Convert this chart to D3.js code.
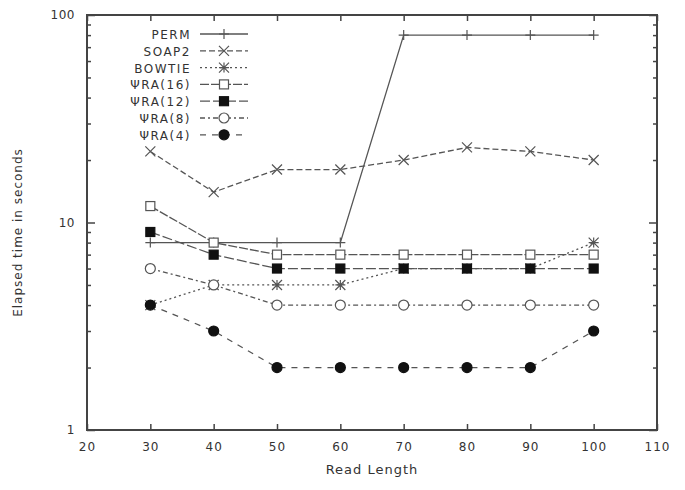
<!DOCTYPE html>
<html>
<head>
<meta charset="utf-8">
<script src="https://d3js.org/d3.v7.min.js"></script>
<style>
  body { margin: 0; background: #fff; }
  text { font-family: "DejaVu Sans", sans-serif; fill: #333; }
</style>
</head>
<body>
<script>
// chart values
var readLength = [30, 40, 50, 60, 70, 80, 90, 100];
var seriesNames = ["PERM", "SOAP2", "BOWTIE", "\u03A8RA(16)", "\u03A8RA(12)", "\u03A8RA(8)", "\u03A8RA(4)"];
var perm   = [8, 8, 8, 8, 80, 80, 80, 80];
var soap2  = [22, 14, 18, 18, 20, 23, 22, 20];
var bowtie = [4, 5, 5, 5, 6, 6, 6, 8];
var psi16  = [12, 8, 7, 7, 7, 7, 7, 7];
var psi12  = [9, 7, 6, 6, 6, 6, 6, 6];
var psi8   = [6, 5, 4, 4, 4, 4, 4, 4];
var psi4   = [4, 3, 2, 2, 2, 2, 2, 3];
var xTicks = [20, 30, 40, 50, 60, 70, 80, 90, 100, 110];
var yTicks = [1, 10, 100];

var allValues = [perm, soap2, bowtie, psi16, psi12, psi8, psi4];
var dashes = [null, "6,3", "2,3", "9,2", "10,3", "5,3,2,3", "6,6"];
var markers = ["plus", "cross", "star", "square", "fsquare", "circle", "fcircle"];

var margin = {top: 15, right: 28, bottom: 60, left: 87},
    width = 685 - margin.left - margin.right,
    height = 490 - margin.top - margin.bottom;

var svg = d3.select("body").append("svg")
    .attr("width", 685)
    .attr("height", 490)
  .append("g")
    .attr("transform", "translate(" + margin.left + "," + margin.top + ")");

var x = d3.scaleLinear().domain([20, 110]).range([0, width]);
var y = d3.scaleLog().domain([1, 100]).range([height, 0]);

// minor log ticks
var minor = [];
[1, 10].forEach(function(b) { for (var k = 2; k <= 9; k++) minor.push(b * k); });

var axisColor = "#444";

// bottom
svg.append("g")
    .attr("transform", "translate(0," + height + ")")
    .call(d3.axisBottom(x).tickValues(xTicks).tickSize(-6).tickPadding(12).tickFormat(d3.format("d")))
    .call(g => g.select(".domain").remove())
    .call(g => g.selectAll("text").style("font-size", "12px").style("letter-spacing", "1px"));
// top
svg.append("g")
    .call(d3.axisTop(x).tickValues(xTicks).tickSize(-6).tickFormat(""))
    .call(g => g.select(".domain").remove());
// left major
svg.append("g")
    .call(d3.axisLeft(y).tickValues(yTicks).tickSize(-8).tickPadding(12).tickFormat(d3.format("d")))
    .call(g => g.select(".domain").remove())
    .call(g => g.selectAll("text").style("font-size", "12px").style("letter-spacing", "0.5px"));
svg.append("g")
    .call(d3.axisLeft(y).tickValues(minor).tickSize(-4).tickFormat(""))
    .call(g => g.select(".domain").remove());
// right
svg.append("g")
    .attr("transform", "translate(" + width + ",0)")
    .call(d3.axisRight(y).tickValues(yTicks).tickSize(-8).tickFormat(""))
    .call(g => g.select(".domain").remove());
svg.append("g")
    .attr("transform", "translate(" + width + ",0)")
    .call(d3.axisRight(y).tickValues(minor).tickSize(-4).tickFormat(""))
    .call(g => g.select(".domain").remove());

svg.selectAll(".tick line").attr("stroke", axisColor).attr("stroke-width", 1.5);

svg.append("rect")
    .attr("width", width).attr("height", height)
    .attr("fill", "none").attr("stroke", axisColor).attr("stroke-width", 2);

// titles
svg.append("text")
    .attr("x", width / 2).attr("y", height + 44)
    .attr("text-anchor", "middle")
    .style("font-size", "13px")
    .style("letter-spacing", "1px")
    .text("Read Length");
svg.append("text")
    .attr("transform", "translate(" + (-65) + "," + (height / 2 + 10) + ") rotate(-90)")
    .attr("text-anchor", "middle")
    .style("font-size", "12px")
    .style("letter-spacing", "1px")
    .text("Elapsed time in seconds");

var lineColor = "#555";

function drawMarker(g, type, cx, cy) {
    var s = 5;
    if (type == "plus") {
        g.append("path").attr("d", "M" + (cx - s) + "," + cy + "H" + (cx + s) + "M" + cx + "," + (cy - s) + "V" + (cy + s))
            .attr("stroke", lineColor).attr("stroke-width", 1.2);
    } else if (type == "cross") {
        g.append("path").attr("d", "M" + (cx - s) + "," + (cy - s) + "L" + (cx + s) + "," + (cy + s) + "M" + (cx - s) + "," + (cy + s) + "L" + (cx + s) + "," + (cy - s))
            .attr("stroke", lineColor).attr("stroke-width", 1.2);
    } else if (type == "star") {
        g.append("path").attr("d", "M" + (cx - s) + "," + (cy - s) + "L" + (cx + s) + "," + (cy + s) + "M" + (cx - s) + "," + (cy + s) + "L" + (cx + s) + "," + (cy - s) +
            "M" + (cx - s) + "," + cy + "H" + (cx + s) + "M" + cx + "," + (cy - s) + "V" + (cy + s))
            .attr("stroke", lineColor).attr("stroke-width", 1.2);
    } else if (type == "square" || type == "fsquare") {
        g.append("rect").attr("x", cx - 4.5).attr("y", cy - 4.5).attr("width", 9).attr("height", 9)
            .attr("fill", type == "fsquare" ? "#111" : "#fff").attr("stroke", type == "fsquare" ? "#111" : lineColor).attr("stroke-width", 1.2);
    } else {
        g.append("circle").attr("cx", cx).attr("cy", cy).attr("r", 5)
            .attr("fill", type == "fcircle" ? "#111" : "#fff").attr("stroke", type == "fcircle" ? "#111" : lineColor).attr("stroke-width", 1.2);
    }
}

var line = d3.line()
    .x(function(d, i) { return x(readLength[i]); })
    .y(function(d) { return y(d); });

allValues.forEach(function(vals, si) {
    var g = svg.append("g");
    g.append("path")
        .attr("d", line(vals))
        .attr("fill", "none")
        .attr("stroke", lineColor)
        .attr("stroke-width", 1.3)
        .attr("stroke-dasharray", dashes[si]);
    vals.forEach(function(v, i) { drawMarker(g, markers[si], x(readLength[i]), y(v)); });
});

// legend
var legend = svg.append("g");
seriesNames.forEach(function(name, i) {
    var ly = 19 + i * 16.8;
    legend.append("text")
        .attr("x", 104).attr("y", ly + 5)
        .attr("text-anchor", "end")
        .style("font-size", "12px")
        .style("letter-spacing", "1.5px")
        .text(name);
    legend.append("line")
        .attr("x1", 113).attr("x2", 161).attr("y1", ly).attr("y2", ly)
        .attr("stroke", lineColor).attr("stroke-width", 1.3)
        .attr("stroke-dasharray", dashes[i]);
    drawMarker(legend, markers[i], 137, ly);
});
</script>
</body>
</html>
